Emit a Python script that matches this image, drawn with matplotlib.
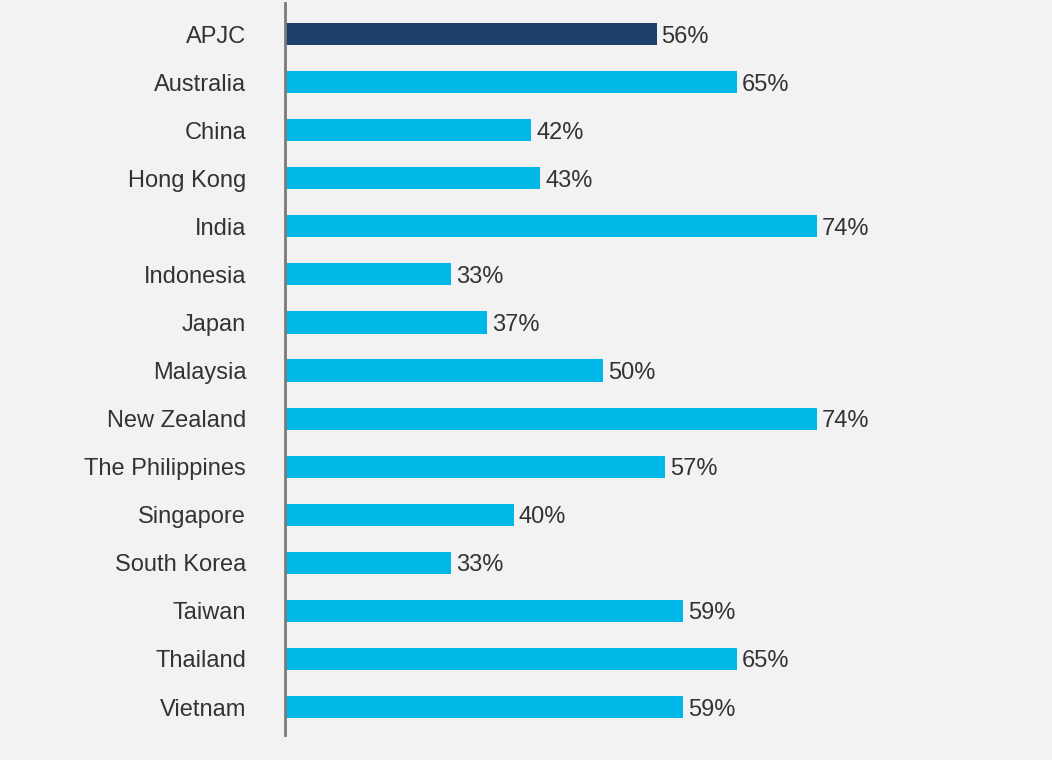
import matplotlib.pyplot as plt

countries = ["APJC", "Australia", "China", "Hong Kong", "India", "Indonesia",
             "Japan", "Malaysia", "New Zealand", "The Philippines", "Singapore",
             "South Korea", "Taiwan", "Thailand", "Vietnam"]
values = [56, 65, 42, 43, 74, 33, 37, 50, 74, 57, 40, 33, 59, 65, 59]

dark = "#1e3f6c"
light = "#00b8e8"
bg = "#f2f2f2"

plt.rcParams['font.family'] = ['Liberation Sans', 'DejaVu Sans']

fig = plt.figure(figsize=(10.52, 7.6), dpi=100, facecolor=bg)
ax = fig.add_axes([0.271, 0.033, 0.72, 0.963], facecolor=bg)

colors = [dark] + [light] * (len(countries) - 1)
ypos = list(range(len(countries)))
ax.barh(ypos, values, height=0.46, color=colors, zorder=2)

for y, v in zip(ypos, values):
    ax.annotate(f"{v}%", xy=(v, y), xytext=(3.5, 0), textcoords="offset points",
                va="center_baseline", ha="left", fontsize=17, color="#333333")

ax.set_yticks(ypos)
ax.set_yticklabels(countries, fontsize=17, color="#333333", va="center_baseline")
ax.tick_params(axis="y", length=0, pad=28)
ax.set_xticks([])
ax.set_xlim(14.43, 99.2)
ax.set_ylim(14.58, -0.645)

for side in ["top", "right", "bottom"]:
    ax.spines[side].set_visible(False)
ax.spines["left"].set_color("#7a7a7a")
ax.spines["left"].set_linewidth(2)

fig.savefig("out.png", dpi=100, facecolor=bg)
